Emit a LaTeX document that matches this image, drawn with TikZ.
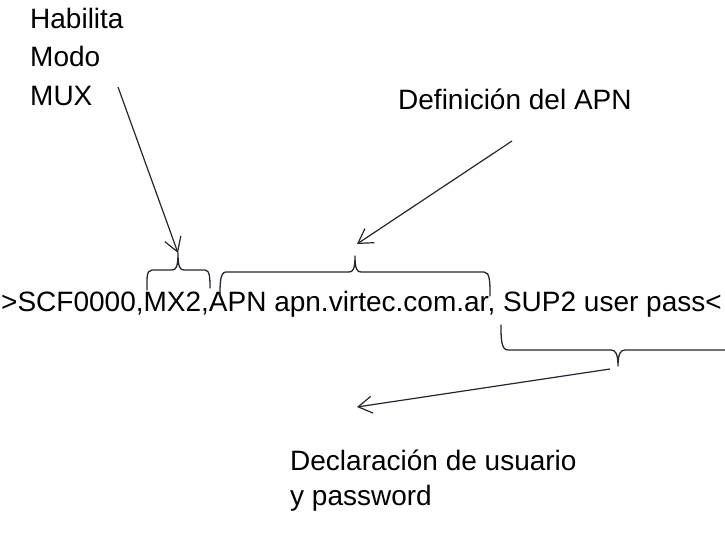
\documentclass[tikz,border=0pt]{standalone}
\usepackage{fontspec}
\setmainfont{Liberation Sans}
\usetikzlibrary{arrows.meta}
\definecolor{ink}{RGB}{38,38,48}
\tikzset{
  lbl/.style={anchor=base west, inner sep=0pt, font=\fontsize{28}{35}\selectfont, text=black},
  brc/.style={draw=ink, line width=1.3pt, line cap=round, line join=round},
  arr/.style={draw=ink, line width=1.2pt, -{Straight Barb[length=14pt,width=17pt,line width=1.2pt]}},
}
\begin{document}
\begin{tikzpicture}[x=1pt,y=-1pt]
\fill[white] (0,0) rectangle (725,544);
\useasboundingbox (0,0) rectangle (725,544);
% labels
\node[lbl] (hab) at (30,28) {Habilita};
\node[lbl] (modo) at (30,66.5) {Modo};
\node[lbl] (mux) at (30,105) {MUX};
\node[lbl] (def) at (398,109) {Definición del APN};
\node[lbl] (cmd) at (1,311) {>SCF0000,MX2,APN apn.virtec.com.ar, SUP2 user pass<};
\node[lbl] (dec) at (290,470) {Declaración de usuario};
\node[lbl] (pwd) at (290,505) {y password};
% brace tips and arrow starts
\coordinate (t1) at (178,253);
\coordinate (t2) at (355,256);
\coordinate (t3) at (618,366);
\coordinate (s1) at (118,87);
\coordinate (s2) at (512,141);
\coordinate (s3) at (610,369);
\coordinate (e3) at (357,407);
% braces
\draw[brc] (147,290) .. controls (147,280) and (146,270) .. (152,270) -- (172,270)
  .. controls (176,270) and (178,267) .. (t1)
  .. controls (178,267) and (180,270) .. (184,270) -- (205,270)
  .. controls (210,270) and (210,279) .. (210,288);
\draw[brc] (220,296) .. controls (220,284) and (220,272) .. (226,272) -- (349,272)
  .. controls (353,272) and (355,269) .. (t2)
  .. controls (355,269) and (357,272) .. (361,272) -- (484,272)
  .. controls (490,272) and (490,282) .. (490,296);
\draw[brc] (501,325) .. controls (501,338) and (501,350) .. (508,350) -- (611,350)
  .. controls (615,350) and (618,353) .. (t3)
  .. controls (618,353) and (621,350) .. (625,350) -- (730,350);
% arrows
\draw[arr] (s1) -- (t1);
\draw[arr] (s2) -- ([shift={(2,-12)}]t2);
\draw[arr] (s3) -- (e3);
\end{tikzpicture}
\end{document}
